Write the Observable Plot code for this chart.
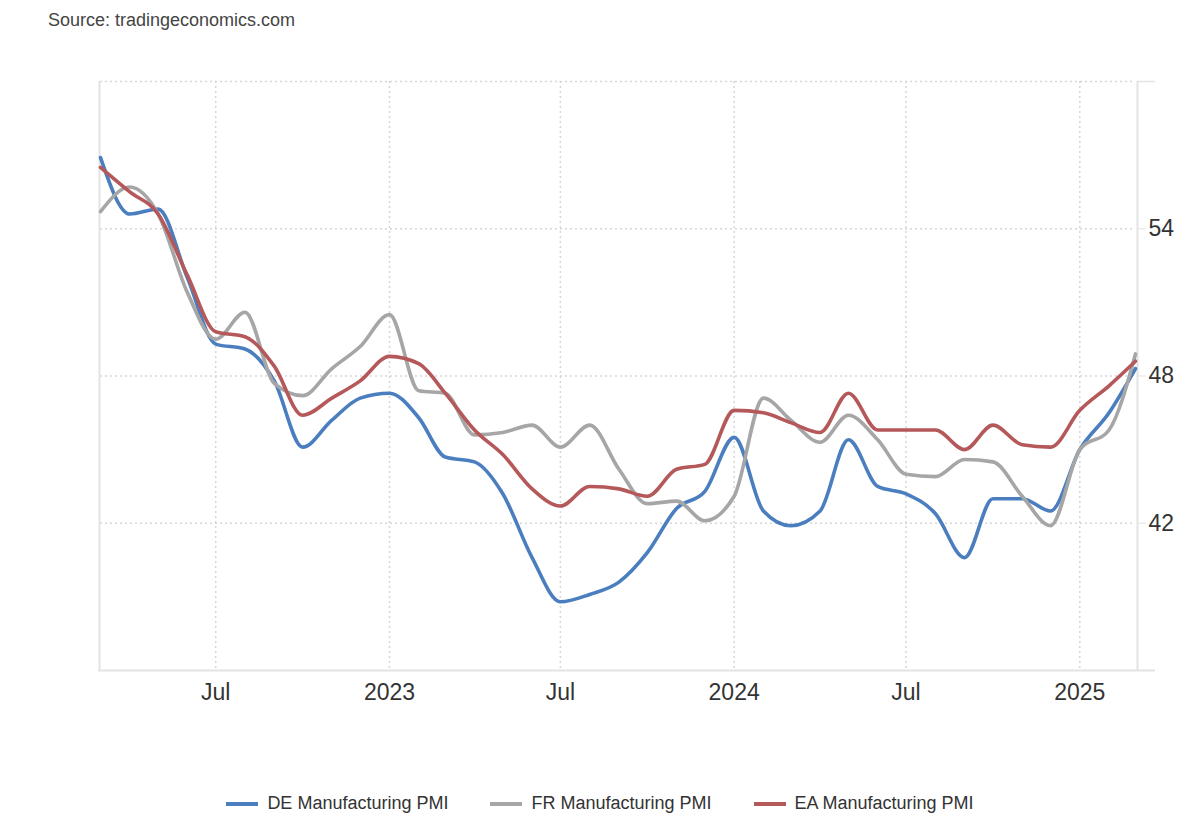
<!DOCTYPE html>
<html>
<head>
<meta charset="utf-8">
<script src="https://cdn.jsdelivr.net/npm/d3@7"></script>
<script src="https://cdn.jsdelivr.net/npm/@observablehq/plot@0.6"></script>
<style>
  html, body { margin: 0; padding: 0; background: #fff; }
  body { width: 1200px; height: 820px; position: relative; overflow: hidden; font-family: "Liberation Sans", Arial, sans-serif; }
  #source { position: absolute; left: 48px; top: 10px; font-size: 18px; color: #444; }
  #chart { position: absolute; left: 0; top: 40px; }
  #legend { position: absolute; left: 0; width: 1200px; top: 793px; display: flex; justify-content: center; gap: 42px; font-size: 18px; color: #333; }
  .item { display: flex; align-items: center; }
  .sw { width: 32px; height: 4px; margin-right: 9px; }
</style>
</head>
<body>
<div id="source">Source: tradingeconomics.com</div>
<div id="chart"></div>
<div id="legend"></div>
<script>
// Monthly data, Mar 2022 .. Mar 2025
const months = [
  "2022-03","2022-04","2022-05","2022-06","2022-07","2022-08","2022-09","2022-10","2022-11","2022-12",
  "2023-01","2023-02","2023-03","2023-04","2023-05","2023-06","2023-07","2023-08","2023-09","2023-10","2023-11","2023-12",
  "2024-01","2024-02","2024-03","2024-04","2024-05","2024-06","2024-07","2024-08","2024-09","2024-10","2024-11","2024-12",
  "2025-01","2025-02","2025-03"
];
const deValues = [56.9,54.6,54.8,52.0,49.3,49.1,47.8,45.1,46.2,47.1,
  47.3,46.3,44.7,44.5,43.2,40.6,38.8,39.1,39.6,40.8,42.6,43.3,
  45.5,42.5,41.9,42.5,45.4,43.5,43.2,42.4,40.6,43.0,43.0,42.5,
  45.0,46.5,48.3];
const frValues = [54.7,55.7,54.6,51.4,49.5,50.6,47.7,47.2,48.3,49.2,
  50.5,47.4,47.3,45.6,45.7,46.0,45.1,46.0,44.2,42.8,42.9,42.1,
  43.1,47.1,46.2,45.3,46.4,45.4,44.0,43.9,44.6,44.5,43.1,41.9,
  45.0,45.8,48.9];
const eaValues = [56.5,55.5,54.6,52.1,49.8,49.6,48.4,46.4,47.1,47.8,
  48.8,48.5,47.3,45.8,44.8,43.4,42.7,43.5,43.4,43.1,44.2,44.4,
  46.6,46.5,46.1,45.7,47.3,45.8,45.8,45.8,45.0,46.0,45.2,45.1,
  46.6,47.6,48.6];
const seriesNames = ["DE Manufacturing PMI", "FR Manufacturing PMI", "EA Manufacturing PMI"];
const seriesColors = ["#4a7ebf", "#a6a6a6", "#b5585a"];
const xTickDates = ["2022-07","2023-01","2023-07","2024-01","2024-07","2025-01"];
const yGridValues = [42, 48, 54, 60];
const yLabelValues = [42, 48, 54];

const parse = s => new Date(s + "-01T00:00:00");
const rows = [];
[deValues, frValues, eaValues].forEach((vals, i) => {
  vals.forEach((v, j) => rows.push({date: parse(months[j]), value: v, series: seriesNames[i]}));
});
const xTicks = xTickDates.map(parse);
const first = parse(months[0]), last = parse(months[months.length - 1]);

const plot = Plot.plot({
  width: 1200,
  height: 690,
  marginTop: 41,
  marginBottom: 60,
  marginLeft: 100,
  marginRight: 65,
  style: {fontFamily: "'Liberation Sans', Arial, sans-serif", fontSize: "23px", color: "#333", background: "#fff"},
  x: {type: "time", domain: [first, last], label: null},
  y: {domain: [36, 60], label: null},
  color: {domain: seriesNames, range: seriesColors},
  marks: [
    Plot.ruleY(yGridValues, {stroke: "#d6d6d6", strokeWidth: 1.5, strokeDasharray: "2,3"}),
    Plot.ruleX(xTicks, {stroke: "#d6d6d6", strokeWidth: 1.5, strokeDasharray: "2,3"}),
    Plot.ruleX([first], {stroke: "#e3e3e3", strokeWidth: 2, dx: -1}),
    Plot.ruleX([last], {stroke: "#e3e3e3", strokeWidth: 2, dx: 2}),
    Plot.ruleY([36], {stroke: "#e3e3e3", strokeWidth: 2, insetLeft: -2, insetRight: -20}),
    Plot.ruleY([60], {stroke: "#e3e3e3", strokeWidth: 1.5, insetLeft: 1037, insetRight: -20}),
    Plot.axisY(yLabelValues, {anchor: "right", label: null, tickSize: 8, tickPadding: 3, stroke: "#e3e3e3", dx: 2, fontSize: 23}),
    Plot.axisX(xTicks, {anchor: "bottom", label: null, tickSize: 0, tickPadding: 13, fontSize: 23,
      tickFormat: d => d.getMonth() === 0 ? String(d.getFullYear()) : "Jul"}),
    Plot.line(rows, {x: "date", y: "value", z: "series", stroke: "series", strokeWidth: 3.6, curve: "monotone-x"})
  ]
});
document.getElementById("chart").appendChild(plot);

const legend = document.getElementById("legend");
seriesNames.forEach((n, i) => {
  const it = document.createElement("div");
  it.className = "item";
  const sw = document.createElement("div");
  sw.className = "sw";
  sw.style.background = seriesColors[i];
  const t = document.createElement("span");
  t.textContent = n;
  it.appendChild(sw); it.appendChild(t);
  legend.appendChild(it);
});
</script>
</body>
</html>
